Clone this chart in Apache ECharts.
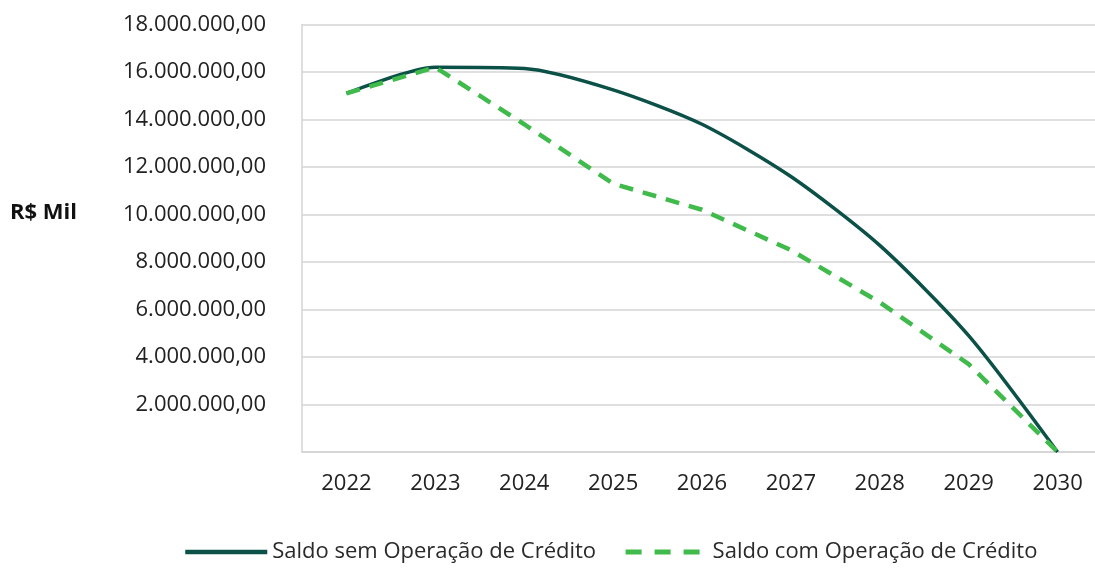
<!DOCTYPE html>
<html>
<head>
    <meta charset="utf-8">
    <title>Saldo com e sem Operação de Crédito</title>
    <script src="https://cdn.jsdelivr.net/npm/echarts@6/dist/echarts.min.js"></script>
    <style>
        html, body { margin: 0; padding: 0; background: #fff; }
        #container { width: 1095px; height: 568px; }
    </style>
</head>
<body>
<div id="container"></div>
<script type="text/javascript">
// anos do eixo x
var years = ['2022', '2023', '2024', '2025', '2026', '2027', '2028', '2029', '2030'];
// R$ mil
var saldoSem = [15100000, 16200000, 16150000, 15250000, 13800000, 11600000, 8700000, 4900000, 0];
var saldoCom = [15100000, 16200000, 13800000, 11300000, 10200000, 8500000, 6300000, 3700000, 0];
var seriesNames = ['Saldo sem Operação de Crédito', 'Saldo com Operação de Crédito'];

function brl(v) {
    var s = Math.round(v).toString().replace(/\B(?=(\d{3})+(?!\d))/g, '.');
    return s + ',00';
}

var font = '"Open Sans", "Noto Sans", sans-serif';
var dom = document.getElementById('container');
var myChart = echarts.init(dom);
var option = {
    animation: false,
    textStyle: { fontFamily: font },
    grid: {
        left: 302, top: 24.5, width: 800, bottom: 116,
        containLabel: false,
        outerBoundsMode: 'none'
    },
    graphic: [{
        type: 'text',
        left: 10,
        top: 202,
        style: { text: 'R$ Mil', font: 'bold 22px ' + font, fill: '#111' }
    }],
    legend: {
        bottom: 0,
        left: 178,
        itemWidth: 82,
        itemHeight: 14,
        itemGap: 27,
        itemStyle: { opacity: 0 },
        textStyle: { fontSize: 22, color: '#2a2a2a', fontFamily: font },
        data: [
            { name: seriesNames[0], lineStyle: { width: 4.5 } },
            { name: seriesNames[1], lineStyle: { width: 5, type: [16, 13] } }
        ]
    },
    xAxis: {
        type: 'category',
        data: years,
        axisLine: { lineStyle: { color: '#d4d4d4', width: 1.5 } },
        axisTick: { show: false },
        axisLabel: { fontSize: 22, color: '#222', margin: 21 }
    },
    yAxis: {
        type: 'value',
        min: 0,
        max: 18000000,
        interval: 2000000,
        axisLine: { show: true, lineStyle: { color: '#d4d4d4', width: 1.5 } },
        axisTick: { show: false },
        splitLine: { lineStyle: { color: '#d4d4d4', width: 1.5 } },
        axisLabel: {
            fontSize: 22,
            color: '#222',
            margin: 36,
            showMinLabel: false,
            formatter: brl
        }
    },
    series: [
        {
            name: seriesNames[0],
            type: 'line',
            data: saldoSem,
            smooth: 0.25,
            symbol: 'none',
            lineStyle: { color: '#0b5147', width: 3.5 },
            itemStyle: { color: '#0b5147' }
        },
        {
            name: seriesNames[1],
            type: 'line',
            data: saldoCom,
            smooth: false,
            symbol: 'none',
            lineStyle: { color: '#3fba4b', width: 4.5, type: [14, 10] },
            itemStyle: { color: '#3fba4b' }
        }
    ]
};
myChart.setOption(option);
</script>
</body>
</html>
